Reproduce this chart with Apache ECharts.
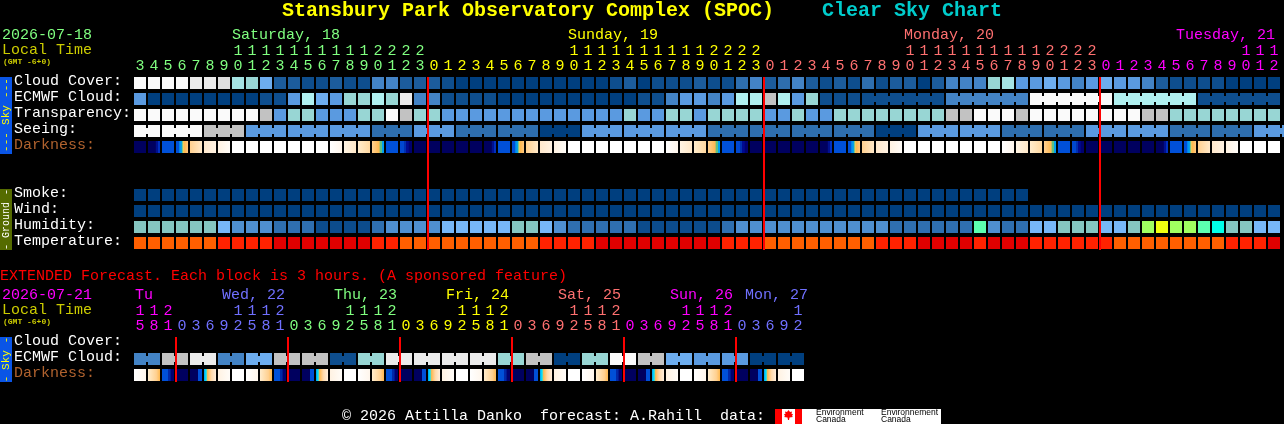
<!DOCTYPE html>
<html><head><meta charset="utf-8">
<style>html,body{margin:0;padding:0;background:#000}#c{width:1284px;height:424px}</style>
<script src="https://cdn.jsdelivr.net/npm/echarts@6/dist/echarts.min.js"></script>
</head><body><div id="c"></div>
<script>
// ---------- tick labels ----------
const hours = [3,4,5,6,7,8,9,10,11,12,13,14,15,16,17,18,19,20,21,22,23,
  0,1,2,3,4,5,6,7,8,9,10,11,12,13,14,15,16,17,18,19,20,21,22,23,
  0,1,2,3,4,5,6,7,8,9,10,11,12,13,14,15,16,17,18,19,20,21,22,23,
  0,1,2,3,4,5,6,7,8,9,10,11,12];
const extHours = [15,18,21, 0,3,6,9,12,15,18,21, 0,3,6,9,12,15,18,21, 0,3,6,9,12,15,18,21,
  0,3,6,9,12,15,18,21, 0,3,6,9,12,15,18,21, 0,3,6,9,12];
const rowNames = ['Cloud Cover:','ECMWF Cloud:','Transparency:','Seeing:','Darkness:','','','Smoke:','Wind:','Humidity:','Temperature:'];
const extRowNames = ['Cloud Cover:','ECMWF Cloud:','Darkness:'];
// ---------- hourly forecast levels ----------
const cloudCover = [13,13,13,13,12,12,11,8,7,6,2,2,1,1,2,1,1,4,4,2,2,
  2,1,0,0,0,0,0,0,0,0,0,0,0,1,2,0,1,1,1,2,1,1,3,4,
  2,3,4,2,1,2,1,3,1,2,2,0,2,4,4,4,7,8,5,5,6,5,4,5,
  6,5,5,4,2,1,1,1,1,0,0,0,0];
const ecmwfHourly = [5,0,0,0,0,0,0,0,0,1,1,5,9,6,5,7,7,9,7,12,4,
  4,1,1,1,1,0,0,0,0,0,0,0,0,0,0,1,1,4,5,5,4,5,9,9,
  10,9,5,7,1,1,1];
const ecmwfSixHour = [1,4,13,9,1];
const transparency = [13,13,13,13,13,13,13,13,13,10,5,7,7,5,5,5,7,7,13,10,7,
  7,5,5,5,5,5,5,5,5,5,5,5,5,5,7,5,5,7,7,5,7,7,7,7,
  5,5,7,5,5,7,7,7,7,7,7,7,7,10,10,13,13,13,10,13,13,13,13,13,
  13,13,13,10,10,7,7,7,7,7,7,7,7];
const seeingBlockLengths = [2,3,3,3,3,3,3,3,3,3,3,3,3,3,3,3,3,3,3,3,3,3,3,3,3,3,3,3,2];
const seeing = [13,13,10,5,5,5,3,5,3,3,0,5,5,5,3,3,3,3,0,5,5,3,3,5,5,3,3,5];
const darkness = [0,1,2,3,4,5,6,7,7,7,7,7,7,7,8,9,10,11,2,12,0,0,0,0,
  0,1,2,3,4,5,6,7,7,7,7,7,7,7,8,9,10,11,2,12,0,0,0,0,
  0,1,2,3,4,5,6,7,7,7,7,7,7,7,8,9,10,11,2,12,0,0,0,0,
  0,1,2,3,4,5,6,7,7,7];
const smoke = [0,0,0,0,0,0,0,0,0,0,0,0,0,0,0,0,0,0,0,0,0,0,0,0,0,0,0,0,0,0,0,0,
  0,0,0,0,0,0,0,0,0,0,0,0,0,0,0,0,0,0,0,0,0,0,0,0,0,0,0,0,0,0,0,0];
const wind = [0,0,0,0,0,0,0,0,0,0,0,0,0,0,0,0,0,0,0,0,0,0,0,0,0,0,0,0,0,0,0,0,0,0,0,0,0,0,0,0,0,
  0,0,0,0,0,0,0,0,0,0,0,0,0,0,0,0,0,0,0,0,0,0,0,0,0,0,0,0,0,0,0,0,0,0,0,0,0,0,0,0,0];
const humidity = [4,4,4,4,4,4,3,2,2,2,1,1,1,0,0,0,0,1,2,2,2,
  2,3,3,3,3,3,4,4,3,2,1,1,1,1,1,0,0,0,0,0,0,1,2,2,
  2,2,2,2,2,2,2,2,2,1,1,1,1,1,1,6,2,1,1,3,3,4,4,4,
  3,3,4,7,8,7,7,6,5,4,4,3,3];
const temperature = [2,2,2,2,2,2,1,1,1,1,0,0,0,0,0,0,0,1,1,2,2,
  2,2,2,2,2,2,2,2,1,1,1,1,0,0,0,0,0,0,0,0,0,1,1,1,
  2,2,2,2,2,2,2,2,1,1,1,0,0,0,0,1,0,0,0,1,1,1,1,1,
  1,2,2,2,2,2,2,2,2,1,1,1,0];
// ---------- extended forecast levels ----------
const extEcmwf = [4,10,12,4,6,10,10,1,7,12,12,12,12,7,10,0,7,13,10,6,5,5,0,0];
const extDarkness = [8,13,14,0,15,16,6,7, 8,13,14,0,15,16,6,7, 8,13,14,0,15,16,6,7,
  8,13,14,0,15,16,6,7, 8,13,14,0,15,16,6,7, 8,13,14,0,15,16,6,7];
const midnightCols = [21,45,69];
const extMidnightCols = [3,11,19,27,35,43];
const dayColours = ['#80ff80','#ffff00','#ff7070','#ff00ff'];
const extDayColours = ['#ff00ff','#7070ff','#80ff80','#ffff00','#ff7070','#ff00ff','#7070ff'];

// ---------- palettes ----------
const cloudPalette = ['#003f7f','#0e4e8e','#1c5c9c','#2e6eae','#4383c5','#5a9ae0','#6dadef','#98d6d4',
  '#a4e3e3','#b0f0f0','#c2c2c2','#dfdfdf','#ebebeb','#fafafa'];
const humidityPalette = ['#0c4c8c','#2f6fb0','#4f8fd0','#77b7f7','#85c5c0','#00ffe8','#5cffb0','#a0ff60','#f0ff10'];
const tempPalette = ['#e00000','#ff2200','#ff5f00'];
const darkStops = [
  [[0,'#00005f'],[1,'#00005f']],
  [[0,'#00005f'],[.62,'#00005f'],[.65,'#00108f'],[.83,'#00108f'],[.86,'#0030c0'],[1,'#0030c0']],
  [[0,'#0050d8'],[1,'#0050d8']],
  [[0,'#0050d8'],[.27,'#0050d8'],[.3,'#0098f0'],[.45,'#0098f0'],[.5,'#40c8a0'],[.62,'#f0c860'],[.72,'#ffb850'],[1,'#ffc880']],
  [[0,'#ffd090'],[1,'#ffe8c8']],
  [[0,'#ffe8cc'],[1,'#fff2e2']],
  [[0,'#fff2e2'],[1,'#fffcf8']],
  [[0,'#ffffff'],[1,'#ffffff']],
  [[0,'#ffffff'],[1,'#fff6ec']],
  [[0,'#fff4e4'],[1,'#ffe8c8']],
  [[0,'#ffeccc'],[1,'#ffd8a0']],
  [[0,'#ffd090'],[.6,'#ffb850'],[.67,'#60c080'],[.83,'#60c080'],[.85,'#00a0f0'],[1,'#00a0f0']],
  [[0,'#0048d0'],[.32,'#0048d0'],[.35,'#0030b0'],[.5,'#0030b0'],[.53,'#000a90'],[.7,'#000a90'],[.73,'#000070'],[1,'#000070']],
  [[0,'#ffeccc'],[.7,'#ffd090'],[1,'#ffb850']],
  [[0,'#0050d8'],[.48,'#0050d8'],[.5,'#0028a8'],[.7,'#0028a8'],[.72,'#000070'],[1,'#000070']],
  [[0,'#00005f'],[.65,'#00005f'],[.67,'#0050d8'],[1,'#0050d8']],
  [[0,'#00a0f0'],[.17,'#00e8ff'],[.3,'#ffb850'],[.6,'#ffd8a8'],[1,'#ffeedc']]
];

const FONT = '"Liberation Mono","DejaVu Sans Mono",monospace';
const pad = (a, n) => a.map((v, i) => [i, n, v]);

function gridCell(palette, connected) {
  return function (params, api) {
    const col = api.value(0), row = api.value(1), lvl = api.value(2);
    const c = api.coord([col, row]);
    const w = api.size([1, 1]);
    const cw = w[0] - 2, ch = w[1] - 4;
    const fill = typeof palette === 'function' ? palette(lvl) : palette[lvl];
    const children = [{ type: 'rect', shape: { x: c[0] - cw / 2, y: c[1] - ch / 2, width: cw, height: ch }, style: { fill } }];
    if (connected && api.value(3)) {
      children.push({ type: 'rect', shape: { x: c[0] + cw / 2, y: c[1] - ch / 2 + 3, width: 2, height: ch - 6 }, style: { fill } });
    }
    return { type: 'group', children };
  };
}
const darkFill = l => new echarts.graphic.LinearGradient(0, 0, 1, 0, darkStops[l].map(s => ({ offset: s[0], color: s[1] })));

function cells(name, data, palette, gridIndex, connected) {
  return { name, type: 'custom', xAxisIndex: gridIndex * 2, yAxisIndex: gridIndex, silent: true, animation: false, z: 2,
    clip: false, renderItem: gridCell(palette, connected), data,
    encode: { x: 0, y: 1 } };
}
function midnight(cols, r0, r1, gridIndex) {
  return { type: 'custom', xAxisIndex: gridIndex * 2, yAxisIndex: gridIndex, silent: true, animation: false, z: 5, clip: false,
    data: cols.map(c => [c, r0, r1]), encode: { x: 0, y: 1 },
    renderItem(params, api) {
      const c = api.coord([api.value(0), api.value(1)]);
      const e = api.coord([api.value(0), api.value(2)]);
      const s = api.size([1, 1]);
      return { type: 'rect', shape: { x: c[0] - s[0] / 2, y: c[1] - s[1] / 2 + 2, width: 2, height: e[1] - c[1] + s[1] - 3 }, style: { fill: '#ff0000' } };
    } };
}
// expand block tables
let seeingData = [], col = 0;
seeingBlockLengths.forEach((n, b) => { if (b >= seeing.length) return; for (let k = 0; k < n; k++, col++) seeingData.push([col, 3, seeing[b], k < n - 1 ? 1 : 0]); });
let ecmwfData = ecmwfHourly.map((v, i) => [i, 1, v, 0]);
ecmwfSixHour.forEach(v => { for (let k = 0; k < 6; k++) ecmwfData.push([ecmwfData.length, 1, v, k < 5 ? 1 : 0]); });
let extEcmwfData = [];
extEcmwf.forEach((v, b) => { extEcmwfData.push([b * 2, 1, v, 1], [b * 2 + 1, 1, v, 0]); });

function dayIndex(hrs, i) { let d = 0; for (let k = 1; k <= i; k++) if (hrs[k] < hrs[k - 1]) d++; return d; }
function digitAxis(hrs, colours, grid, tens, offset) {
  return { type: 'category', gridIndex: grid, position: 'top', offset, data: hrs.map(h => tens ? (h >= 10 ? String(Math.floor(h / 10)) : '') : String(h % 10)),
    axisLine: { show: false }, axisTick: { show: false }, splitLine: { show: false },
    axisLabel: { show: true, interval: 0, margin: 1, hideOverlap: false, fontFamily: FONT, fontSize: 15, lineHeight: 15,
      color: (v, i) => colours[dayIndex(hrs, i)] } };
}
function rowAxis(names, grid) {
  return { type: 'category', gridIndex: grid, inverse: true, data: names.map((n, i) => i),
    axisLine: { show: false }, axisTick: { show: false }, splitLine: { show: false },
    axisLabel: { show: true, interval: 0, align: 'left', margin: 119, fontFamily: FONT, fontSize: 15, verticalAlign: 'bottom', lineHeight: 4,
      formatter: v => names[+v], color: v => names[+v] === 'Darkness:' ? '#b0622e' : '#ffffff' } };
}
const txt = (text, x, y, fill, font, extra) => Object.assign({ type: 'text', x, y, silent: true, z: 10,
  style: { text, fill, font: font || ('15px ' + FONT), verticalAlign: 'middle', align: 'left' } }, extra || {});
const box = (x, y, w, h, fill) => ({ type: 'rect', silent: true, z: 9, shape: { x, y, width: w, height: h }, style: { fill } });
const vtxt = (text, y, fill, size) => ({ type: 'text', x: 6, y, rotation: Math.PI / 2, silent: true, z: 10,
  style: { text, fill, font: (size || 11) + 'px ' + FONT, align: 'center', verticalAlign: 'middle' } });

const graphicEls = [
  txt('Stansbury Park Observatory Complex (SPOC)', 282, 11, '#ffff00', 'bold 20px ' + FONT),
  txt('Clear Sky Chart', 822, 11, '#00cccc', 'bold 20px ' + FONT),
  txt('2026-07-18', 2, 35, '#80ff80'), txt('Local Time', 2, 50, '#cccc00'),
  txt('(GMT -6+0)', 3, 62, '#cccc00', 'bold 8px ' + FONT),
  txt('Saturday, 18', 232, 35, '#80ff80'), txt('Sunday, 19', 568, 35, '#ffff00'),
  txt('Monday, 20', 904, 35, '#ff7070'), txt('Tuesday, 21', 1176, 35, '#ff00ff'),
  box(0, 77, 12, 77, '#0a55e6'),
  vtxt('---', 88, '#ffff00'), vtxt('Sky', 115, '#ffff00'), vtxt('---', 142, '#ffff00'),
  box(0, 189, 12, 61, '#556b00'),
  vtxt('-', 192, '#ffffff'), vtxt('Ground', 220, '#ffffff', 10), vtxt('-', 247, '#ffffff'),
  txt('EXTENDED Forecast. Each block is 3 hours. (A sponsored feature)', 0, 276, '#ff0000'),
  txt('2026-07-21', 2, 295, '#ff00ff'), txt('Local Time', 2, 310, '#cccc00'),
  txt('(GMT -6+0)', 3, 322, '#cccc00', 'bold 8px ' + FONT),
  txt('Tu', 135, 295, '#ff00ff'), txt('Wed, 22', 222, 295, '#7070ff'), txt('Thu, 23', 334, 295, '#80ff80'),
  txt('Fri, 24', 446, 295, '#ffff00'), txt('Sat, 25', 558, 295, '#ff7070'), txt('Sun, 26', 670, 295, '#ff00ff'),
  txt('Mon, 27', 745, 295, '#7070ff'),
  box(0, 337, 12, 45, '#0a55e6'),
  vtxt('-', 340, '#ffff00'), vtxt('Sky', 360, '#ffff00'), vtxt('-', 379, '#ffff00'),
  txt('\u00a9 2026 Attilla Danko  forecast: A.Rahill  data:', 342, 416, '#ffffff'),
  box(775, 409, 166, 15, '#ffffff'), box(775, 409, 7, 15, '#ff0000'), box(795, 409, 7, 15, '#ff0000'),
  { type: 'polygon', silent: true, z: 10, shape: { points: [[788.5,410],[790,412],[792,411.5],[791.5,414],[793,414],[792,416],[793,417],[789.5,417.5],[789,420],[788,420],[787.5,417.5],[784,417],[785,416],[784,414],[785.5,414],[785,411.5],[787,412]] }, style: { fill: '#ff0000' } },
  txt('Environment', 816, 412.5, '#000000', '8.5px "Liberation Sans",sans-serif'),
  txt('Canada', 816, 420, '#000000', '8.5px "Liberation Sans",sans-serif'),
  txt('Environnement', 881, 412.5, '#000000', '8.5px "Liberation Sans",sans-serif'),
  txt('Canada', 881, 420, '#000000', '8.5px "Liberation Sans",sans-serif')
];

const chart = echarts.init(document.getElementById('c'), null, { renderer: 'canvas', width: 1284, height: 424 });
chart.setOption({
  backgroundColor: '#000000', animation: false, tooltip: { show: false },
  grid: [
    { left: 133, top: 75, width: 1148, height: 176, containLabel: false },
    { left: 133, top: 335, width: 672, height: 48, containLabel: false }
  ],
  xAxis: [
    digitAxis(hours, dayColours, 0, false, 0),
    digitAxis(hours, dayColours, 0, true, 15),
    digitAxis(extHours, extDayColours, 1, false, 0),
    digitAxis(extHours, extDayColours, 1, true, 15)
  ],
  yAxis: [rowAxis(rowNames, 0), rowAxis(extRowNames, 1)],
  series: [
    cells('Cloud Cover', pad(cloudCover, 0), cloudPalette, 0),
    cells('ECMWF Cloud', ecmwfData, cloudPalette, 0, true),
    cells('Transparency', pad(transparency, 2), cloudPalette, 0),
    cells('Seeing', seeingData, cloudPalette, 0, true),
    cells('Darkness', pad(darkness, 4), darkFill, 0),
    cells('Smoke', pad(smoke, 7), cloudPalette, 0),
    cells('Wind', pad(wind, 8), cloudPalette, 0),
    cells('Humidity', pad(humidity, 9), humidityPalette, 0),
    cells('Temperature', pad(temperature, 10), tempPalette, 0),
    midnight(midnightCols, 0, 10, 0),
    cells('Ext ECMWF', extEcmwfData, cloudPalette, 1, true),
    cells('Ext Darkness', pad(extDarkness, 2), darkFill, 1),
    midnight(extMidnightCols, 0, 2, 1)
  ],
  graphic: graphicEls
});
</script></body></html>
